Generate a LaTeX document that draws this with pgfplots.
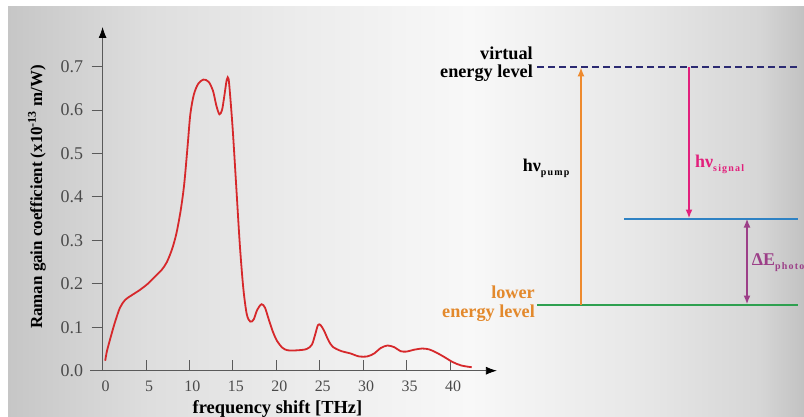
\documentclass[border=0pt]{standalone}
\usepackage{fontspec}
\setmainfont{Liberation Serif}
\newfontfamily\subfont[LetterSpace=12]{Liberation Serif}
\usepackage{pgfplots}
\pgfplotsset{compat=1.18}
\usetikzlibrary{arrows.meta}
\definecolor{curvered}{HTML}{D6282B}
\definecolor{axgray}{HTML}{5A5A5A}
\definecolor{lblgray}{HTML}{4A4A4A}
\definecolor{navy}{HTML}{2B2A72}
\definecolor{pumporange}{HTML}{EE8A2E}
\definecolor{lowerorange}{HTML}{E3892C}
\definecolor{sigpink}{HTML}{E2207C}
\definecolor{lvlblue}{HTML}{2E82C4}
\definecolor{photpurple}{HTML}{9C3F88}
\definecolor{lvlgreen}{HTML}{2EA050}
\definecolor{bgA}{HTML}{C6C6C6}
\definecolor{bgB}{HTML}{DEDEDE}
\definecolor{bgC}{HTML}{ECECEC}
\definecolor{bgD}{HTML}{F8F8F8}
\definecolor{bgE}{HTML}{E6E6E6}
\definecolor{bgF}{HTML}{D6D6D6}
\definecolor{bgG}{HTML}{C2C2C2}
\pgfdeclarehorizontalshading{bgshade}{100bp}{color(0bp)=(bgA); color(25bp)=(bgA); color(33.9bp)=(bgB); color(43.3bp)=(bgC); color(54bp)=(bgD); color(65.3bp)=(bgE); color(72.2bp)=(bgF); color(75bp)=(bgG); color(100bp)=(bgG)}
\begin{document}
\begin{tikzpicture}[x=1bp,y=1bp]
\clip (0,0) rectangle (804,416);
\fill[white] (0,0) rectangle (804,416);
\shade[shading=bgshade] (8,0) rectangle (804,409);
\begin{axis}[
  at={(90bp,45.3bp)}, anchor=south west,
  scale only axis, width=406.9bp, height=343.7bp,
  xmin=-1.45, xmax=45.4, ymin=0, ymax=0.791,
  axis lines=middle,
  axis line style={draw=axgray, line width=0.8bp, -{Latex[length=11bp,width=8bp,black]}},
  xtick={0,5,10,15,20,25,30,35,40},
  ytick={0,0.1,0.2,0.3,0.4,0.5,0.6,0.7},
  major tick length=11bp,
  xtick align=inside, ytick align=outside,
  tick style={draw=axgray, line width=0.8bp},
  /pgf/number format/assume math mode=true,
  xticklabel style={font=\fontsize{16}{16}\selectfont, text=lblgray, xshift=3bp, yshift=-7bp},
  yticklabel style={font=\fontsize{18}{18}\selectfont, text=lblgray, /pgf/number format/fixed, /pgf/number format/fixed zerofill, /pgf/number format/precision=1, xshift=-5bp},
  clip=false,
]
\addplot[color=curvered, line width=1.8bp, smooth, tension=0.5] coordinates {
(0.3,0.023) (0.5,0.045) (0.9,0.075) (1.4,0.11) (2.0,0.145) (2.6,0.163) (3.3,0.173)
(4.3,0.186) (5.2,0.2) (5.9,0.214) (6.8,0.232) (7.4,0.25) (8.0,0.28) (8.5,0.316)
(9.0,0.37) (9.4,0.43) (9.8,0.52) (10.1,0.59) (10.5,0.635) (11.0,0.66) (11.6,0.67)
(12.2,0.665) (12.7,0.645) (13.1,0.61) (13.45,0.59) (13.75,0.60) (14.0,0.63) (14.3,0.67)
(14.5,0.672) (14.7,0.63) (15.0,0.55) (15.4,0.42) (15.8,0.29) (16.2,0.19) (16.6,0.13)
(17.0,0.113) (17.4,0.118) (17.8,0.14) (18.3,0.153) (18.7,0.145) (19.1,0.12) (19.6,0.09)
(20.1,0.068) (20.7,0.053) (21.3,0.047) (22.5,0.047) (23.5,0.05) (24.1,0.06) (24.5,0.085)
(24.8,0.105) (25.1,0.105) (25.5,0.092) (26.0,0.07) (26.5,0.055) (27.5,0.045) (28.5,0.04)
(29.5,0.033) (30.5,0.033) (31.3,0.04) (32.0,0.052) (32.8,0.058) (33.6,0.054) (34.3,0.045)
(35.0,0.044) (35.8,0.048) (36.8,0.051) (37.6,0.049) (38.4,0.042) (39.3,0.032) (40.3,0.02)
(41.3,0.012) (42.5,0.008)
};
\node[anchor=north, font=\fontsize{16}{16}\selectfont, text=lblgray, xshift=3bp, yshift=-7bp] at (axis cs:0,0) {0};
\draw[axgray, line width=0.8bp] (axis cs:0,0) -- ++(-11bp,0);
\node[anchor=east, font=\fontsize{18}{18}\selectfont, text=lblgray, xshift=-16bp] at (axis cs:0,0) {0.0};
\end{axis}
% axis titles
\node[rotate=90, font=\bfseries\fontsize{17}{17}\selectfont] at (37,219) {Raman gain coefficient (x10\textsuperscript{-13} m/W)};
\node[anchor=base, font=\bfseries\fontsize{18.5}{18.5}\selectfont] at (277.5,3) {frequency shift [THz]};
% energy diagram
\draw[navy, line width=1.8bp, dash pattern=on 7bp off 4bp] (537,348.7) -- (798,348.7);
\draw[lvlblue, line width=1.8bp] (624,197) -- (798,197);
\draw[lvlgreen, line width=1.8bp] (537,111) -- (798,111);
\draw[pumporange, line width=1.8bp, -{Latex[length=9bp,width=7bp]}] (581,111) -- (581,348.7);
\draw[sigpink, line width=1.8bp, -{Latex[length=9bp,width=7bp]}] (689,348.7) -- (689,197.5);
\draw[photpurple, line width=1.8bp, {Latex[length=9bp,width=7bp]}-{Latex[length=9bp,width=7bp]}] (747,197.5) -- (747,111.5);
\node[anchor=east, font=\bfseries\fontsize{18.3}{18.3}\selectfont, text=black, inner sep=0pt] at (533,363) {virtual};
\node[anchor=east, font=\bfseries\fontsize{18.3}{18.3}\selectfont, text=black, inner sep=0pt] at (533,343) {energy level};
\node[anchor=east, font=\bfseries\fontsize{18.3}{18.3}\selectfont, text=lowerorange, inner sep=0pt] at (535,124) {lower};
\node[anchor=east, font=\bfseries\fontsize{18.3}{18.3}\selectfont, text=lowerorange, inner sep=0pt] at (535,103) {energy level};
\node[anchor=base west, inner sep=0pt, text=black] at (522.7,244.3) {\bfseries\fontsize{18}{18}\selectfont hν\raisebox{-4bp}{\subfont\bfseries\fontsize{10}{10}\selectfont pump}};
\node[anchor=base west, inner sep=0pt, text=sigpink] at (695,248.7) {\bfseries\fontsize{18}{18}\selectfont hν\raisebox{-4bp}{\subfont\bfseries\fontsize{10}{10}\selectfont signal}};
\node[anchor=base west, inner sep=0pt, text=photpurple] at (751.7,151) {\bfseries\fontsize{18}{18}\selectfont ΔE\raisebox{-4bp}{\subfont\bfseries\fontsize{10}{10}\selectfont photon}};
\end{tikzpicture}
\end{document}
